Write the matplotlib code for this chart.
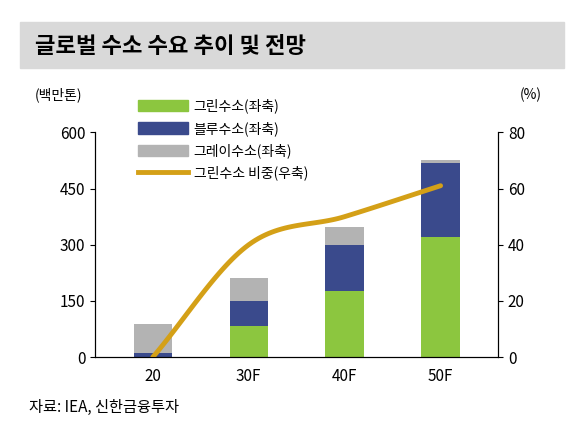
import numpy as np
import matplotlib.pyplot as plt
from matplotlib.patches import Rectangle
from matplotlib.lines import Line2D

plt.rcParams['font.family'] = ['Noto Sans CJK KR', 'DejaVu Sans']

categories = ['20', '30F', '40F', '50F']
green = [0, 82, 176, 322]
blue = [10, 68, 124, 196]
gray = [78, 60, 47, 7]
share = [0, 40, 50, 61]

c_green = '#8CC63F'
c_blue = '#3A4A8C'
c_gray = '#B3B3B3'
c_line = '#D4A017'

fig = plt.figure(figsize=(5.84, 4.41), dpi=100)
fig.add_artist(Rectangle((0.035, 0.845), 0.93, 0.105, transform=fig.transFigure,
                         color='#D9D9D9', zorder=0))
fig.text(0.06, 0.895, '글로벌 수소 수요 추이 및 전망', fontsize=16, fontweight='bold',
         va='center')

ax = fig.add_axes([0.163, 0.19, 0.69, 0.51])
x = np.arange(len(categories))
w = 0.4
g = np.array(green); b = np.array(blue); gr = np.array(gray)
ax.bar(x, g, w, color=c_green)
ax.bar(x, b, w, bottom=g, color=c_blue)
ax.bar(x, gr, w, bottom=g + b, color=c_gray)
ax.set_ylim(0, 600)
ax.set_yticks([0, 150, 300, 450, 600])
ax.set_xlim(-0.6, 3.6)
ax.set_xticks(x)
ax.set_xticklabels(categories, fontsize=11)
ax.tick_params(axis='y', labelsize=11, direction='out')
ax.tick_params(axis='x', length=0, pad=8)
ax.spines['top'].set_visible(False)

ax2 = ax.twinx()
ax2.set_ylim(0, 80)
ax2.set_yticks([0, 20, 40, 60, 80])
ax2.tick_params(axis='y', labelsize=11)
ax2.spines['top'].set_visible(False)

# smooth curve through the data points (Catmull-Rom)
pts = np.array(share, dtype=float)
px = np.concatenate([[x[0] - 1], x, [x[-1] + 1]]).astype(float)
py = np.concatenate([[pts[0] - (pts[1] - pts[0])], pts, [pts[-1] + (pts[-1] - pts[-2])]])
cx, cy = [], []
t = np.linspace(0, 1, 30)
for i in range(1, len(px) - 2):
    for arr, out in ((px, cx), (py, cy)):
        p0, p1, p2, p3 = arr[i - 1], arr[i], arr[i + 1], arr[i + 2]
        out.extend(0.5 * (2 * p1 + (-p0 + p2) * t + (2 * p0 - 5 * p1 + 4 * p2 - p3) * t ** 2
                          + (-p0 + 3 * p1 - 3 * p2 + p3) * t ** 3))
ax2.plot(cx, cy, color=c_line, lw=3.5, solid_capstyle='round')

fig.text(0.06, 0.775, '(백만톤)', fontsize=10)
fig.text(0.89, 0.775, '(%)', fontsize=10)

handles = [Rectangle((0, 0), 1, 1, color=c_green), Rectangle((0, 0), 1, 1, color=c_blue),
           Rectangle((0, 0), 1, 1, color=c_gray), Line2D([], [], color=c_line, lw=3.5)]
labels = ['그린수소(좌축)', '블루수소(좌축)', '그레이수소(좌축)', '그린수소 비중(우축)']
fig.legend(handles, labels, loc='upper left', bbox_to_anchor=(0.215, 0.805), frameon=False,
           fontsize=10, handlelength=3.6, handletextpad=0.4, handleheight=0.9,
           labelspacing=0.55)

fig.text(0.05, 0.065, '자료: IEA, 신한금융투자', fontsize=11)
fig.savefig('out.png', dpi=100)
